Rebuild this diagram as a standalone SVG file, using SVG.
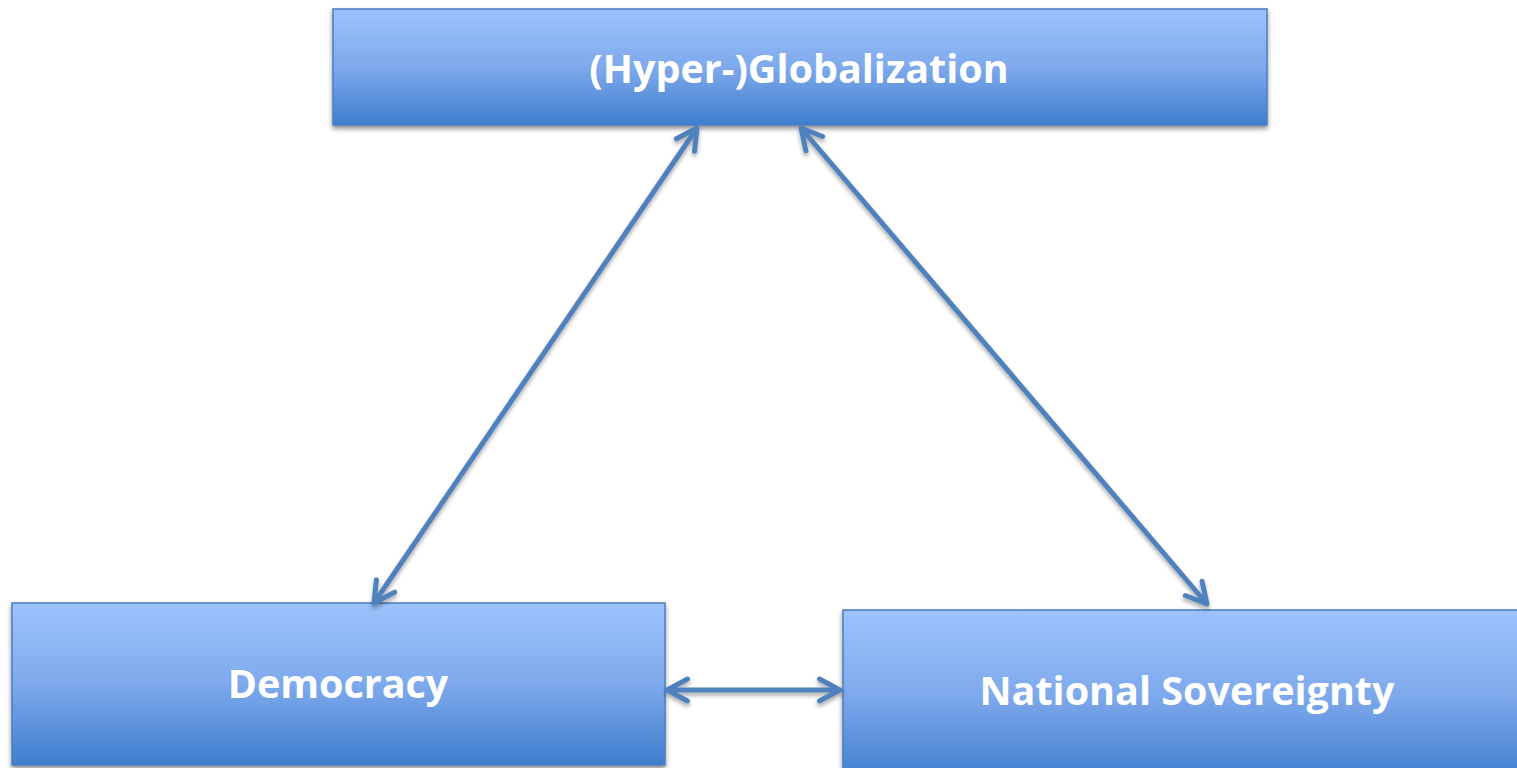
<svg xmlns="http://www.w3.org/2000/svg" width="1517" height="768" viewBox="0 0 1517 768">
<defs>
<linearGradient id="g" x1="0" y1="0" x2="0" y2="1">
<stop offset="0" stop-color="#9DC3FD"/>
<stop offset="0.5" stop-color="#7EA9EC"/>
<stop offset="1" stop-color="#3F7ECE"/>
</linearGradient>
<filter id="sh" x="-10%" y="-10%" width="120%" height="130%">
<feGaussianBlur in="SourceAlpha" stdDeviation="2.5"/>
<feOffset dx="0" dy="3" result="b"/>
<feComponentTransfer><feFuncA type="linear" slope="0.45"/></feComponentTransfer>
<feMerge><feMergeNode/><feMergeNode in="SourceGraphic"/></feMerge>
</filter>
<filter id="lsh" filterUnits="userSpaceOnUse" x="0" y="0" width="1517" height="768">
<feGaussianBlur in="SourceAlpha" stdDeviation="2"/>
<feOffset dx="0" dy="3" result="b"/>
<feComponentTransfer><feFuncA type="linear" slope="0.35"/></feComponentTransfer>
<feMerge><feMergeNode/><feMergeNode in="SourceGraphic"/></feMerge>
</filter>
<marker id="ah" viewBox="0 0 12 12" refX="11" refY="6" markerWidth="6" markerHeight="6" markerUnits="strokeWidth" orient="auto-start-reverse">
<path d="M2.8,1.6 L11,6 L2.8,10.4" fill="none" stroke="#4F81BD" stroke-width="2" stroke-linecap="round" stroke-linejoin="round"/>
</marker>
</defs>
<style>
.box{fill:url(#g);stroke:#4A7EC0;stroke-width:1.5;filter:url(#sh)}
.lbl{font-family:"Open Sans","Liberation Sans",sans-serif;font-weight:bold;fill:#FFFFFF;text-anchor:middle}
.con{stroke:#4F81BD;stroke-width:5;fill:none;marker-start:url(#ah);marker-end:url(#ah)}
</style>
<rect width="1517" height="768" fill="#FFFFFF"/>
<g id="globalization">
<rect class="box" x="333" y="9" width="934" height="116"/>
<text class="lbl" x="799" y="83" font-size="39.5">(Hyper-)Globalization</text>
</g>
<g id="democracy">
<rect class="box" x="12" y="603" width="653" height="162"/>
<text class="lbl" x="338" y="698" font-size="39.5">Democracy</text>
</g>
<g id="sovereignty">
<rect class="box" x="843" y="610" width="690" height="170"/>
<text class="lbl" x="1187" y="705" font-size="39.5">National Sovereignty</text>
</g>
<g id="connectors" filter="url(#lsh)">
<line class="con" x1="697" y1="128" x2="374" y2="603"/>
<line class="con" x1="801" y1="128" x2="1207" y2="604"/>
<line class="con" x1="667" y1="690" x2="840" y2="690"/>
</g>
</svg>
